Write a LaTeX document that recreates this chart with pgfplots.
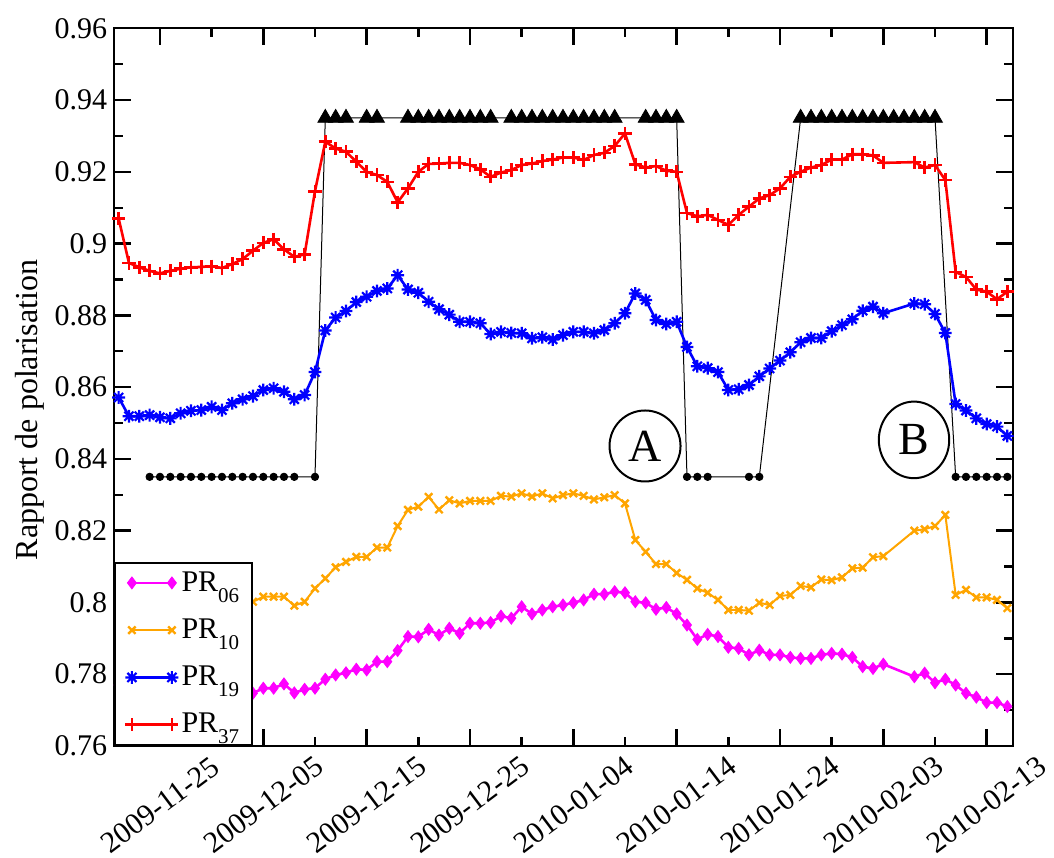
\documentclass[border=0pt]{standalone}
\usepackage{fontspec}
\setmainfont{Liberation Serif}
\usepackage{pgfplots}
\usepackage{pgfplotstable}
\pgfplotsset{compat=1.18}
\usetikzlibrary{shapes.geometric}
\definecolor{mymag}{RGB}{255,0,255}
\definecolor{myor}{RGB}{255,165,0}
\definecolor{myblue}{RGB}{0,0,255}
\definecolor{myred}{RGB}{255,0,0}
\pgfdeclareplotmark{star8}{%
  \pgfpathmoveto{\pgfqpoint{-\pgfplotmarksize}{0pt}}\pgfpathlineto{\pgfqpoint{\pgfplotmarksize}{0pt}}%
  \pgfpathmoveto{\pgfqpoint{0pt}{-\pgfplotmarksize}}\pgfpathlineto{\pgfqpoint{0pt}{\pgfplotmarksize}}%
  \pgfpathmoveto{\pgfqpoint{-.7071\pgfplotmarksize}{-.7071\pgfplotmarksize}}\pgfpathlineto{\pgfqpoint{.7071\pgfplotmarksize}{.7071\pgfplotmarksize}}%
  \pgfpathmoveto{\pgfqpoint{-.7071\pgfplotmarksize}{.7071\pgfplotmarksize}}\pgfpathlineto{\pgfqpoint{.7071\pgfplotmarksize}{-.7071\pgfplotmarksize}}%
  \pgfusepathqstroke}
\newcommand\sub[1]{\raisebox{-5.5pt}[\height][0pt]{\fontsize{10.5}{12}\selectfont #1}}

% x = days since 2009-11-25
\pgfplotstableread{
x y
-4 0.9070
-3 0.8946
-2 0.8934
-1 0.8924
0 0.8917
1 0.8924
2 0.8930
3 0.8934
4 0.8935
5 0.8937
6 0.8932
7 0.8943
8 0.8957
9 0.8980
10 0.9002
11 0.9012
12 0.8984
13 0.8963
14 0.8970
15 0.9146
16 0.9284
17 0.9265
18 0.9256
19 0.9228
20 0.9200
21 0.9191
22 0.9172
23 0.9115
24 0.9154
25 0.9200
26 0.9222
27 0.9223
28 0.9225
29 0.9225
30 0.9219
31 0.9207
32 0.9186
33 0.9198
34 0.9205
35 0.9219
36 0.9223
37 0.9230
38 0.9234
39 0.9240
40 0.9240
41 0.9233
42 0.9247
43 0.9253
44 0.9272
45 0.9307
46 0.9221
47 0.9212
48 0.9216
49 0.9203
50 0.9200
51 0.9085
52 0.9076
53 0.9080
54 0.9066
55 0.9052
56 0.9080
57 0.9103
58 0.9126
59 0.9135
60 0.9154
61 0.9186
62 0.9200
63 0.9212
64 0.9219
65 0.9234
66 0.9234
67 0.9249
68 0.9249
69 0.9246
70 0.9225
73 0.9227
74 0.9212
75 0.9219
76 0.9177
77 0.8921
78 0.8907
79 0.8872
80 0.8866
81 0.8845
82 0.8866
}\tabred

\pgfplotstableread{
x y
-4 0.8571
-3 0.8519
-2 0.8519
-1 0.8522
0 0.8516
1 0.8513
2 0.8527
3 0.8534
4 0.8536
5 0.8545
6 0.8536
7 0.8555
8 0.8566
9 0.8575
10 0.8592
11 0.8597
12 0.8587
13 0.8566
14 0.8578
15 0.8642
16 0.8758
17 0.8794
18 0.8812
19 0.8837
20 0.8852
21 0.8868
22 0.8875
23 0.8912
24 0.8872
25 0.8863
26 0.8838
27 0.8817
28 0.8802
29 0.8782
30 0.8782
31 0.8778
32 0.8748
33 0.8754
34 0.8751
35 0.8750
36 0.8736
37 0.8739
38 0.8733
39 0.8745
40 0.8754
41 0.8754
42 0.8750
43 0.8759
44 0.8778
45 0.8806
46 0.8861
47 0.8843
48 0.8787
49 0.8776
50 0.8782
51 0.8712
52 0.8658
53 0.8653
54 0.8642
55 0.8592
56 0.8594
57 0.8606
58 0.8630
59 0.8652
60 0.8674
61 0.8697
62 0.8725
63 0.8737
64 0.8737
65 0.8756
66 0.8773
67 0.8789
68 0.8813
69 0.8824
70 0.8806
73 0.8833
74 0.8831
75 0.8804
76 0.8751
77 0.8553
78 0.8535
79 0.8513
80 0.8497
81 0.8490
82 0.8464
}\tabblue

\pgfplotstableread{
x y
-4 0.8005
-3 0.8000
-2 0.8002
-1 0.7998
0 0.8000
1 0.8003
2 0.8001
3 0.8004
4 0.8000
5 0.8003
6 0.8006
7 0.8004
8 0.8005
9 0.8002
10 0.8016
11 0.8016
12 0.8016
13 0.7991
14 0.8002
15 0.8039
16 0.8067
17 0.8098
18 0.8113
19 0.8127
20 0.8127
21 0.8153
22 0.8153
23 0.8213
24 0.8258
25 0.8267
26 0.8294
27 0.8259
28 0.8285
29 0.8276
30 0.8283
31 0.8283
32 0.8283
33 0.8297
34 0.8295
35 0.8304
36 0.8295
37 0.8304
38 0.8290
39 0.8299
40 0.8304
41 0.8297
42 0.8287
43 0.8293
44 0.8299
45 0.8276
46 0.8174
47 0.8141
48 0.8107
49 0.8107
50 0.8082
51 0.8063
52 0.8039
53 0.8027
54 0.8007
55 0.7979
56 0.7979
57 0.7977
58 0.7999
59 0.7993
60 0.8018
61 0.8021
62 0.8046
63 0.8042
64 0.8064
65 0.8062
66 0.8070
67 0.8095
68 0.8097
69 0.8126
70 0.8129
73 0.8200
74 0.8204
75 0.8213
76 0.8244
77 0.8021
78 0.8035
79 0.8014
80 0.8014
81 0.8007
82 0.7984
}\taborange

\pgfplotstableread{
x y
-4 0.7770
-3 0.7765
-2 0.7762
-1 0.7760
0 0.7758
1 0.7755
2 0.7757
3 0.7760
4 0.7756
5 0.7758
6 0.7760
7 0.7757
8 0.7752
9 0.7747
10 0.7761
11 0.7761
12 0.7773
13 0.7748
14 0.7758
15 0.7761
16 0.7786
17 0.7798
18 0.7804
19 0.7814
20 0.7812
21 0.7835
22 0.7835
23 0.7866
24 0.7905
25 0.7904
26 0.7925
27 0.7909
28 0.7928
29 0.7914
30 0.7942
31 0.7942
32 0.7944
33 0.7962
34 0.7956
35 0.7988
36 0.7968
37 0.7979
38 0.7988
39 0.7993
40 0.7999
41 0.8007
42 0.8023
43 0.8023
44 0.8030
45 0.8027
46 0.8002
47 0.7999
48 0.7981
49 0.7986
50 0.7968
51 0.7937
52 0.7897
53 0.7911
54 0.7905
55 0.7875
56 0.7872
57 0.7854
58 0.7867
59 0.7854
60 0.7854
61 0.7847
62 0.7844
63 0.7844
64 0.7854
65 0.7858
66 0.7856
67 0.7847
68 0.7821
69 0.7816
70 0.7828
73 0.7793
74 0.7803
75 0.7776
76 0.7786
77 0.7770
78 0.7747
79 0.7736
80 0.7721
81 0.7721
82 0.7710
}\tabmag

\pgfplotstableread{
x y
-1 0.835
0 0.835
1 0.835
2 0.835
3 0.835
4 0.835
5 0.835
6 0.835
7 0.835
8 0.835
9 0.835
10 0.835
11 0.835
12 0.835
13 0.835
15 0.835
16 0.935
17 0.935
18 0.935
20 0.935
21 0.935
24 0.935
25 0.935
26 0.935
27 0.935
28 0.935
29 0.935
30 0.935
31 0.935
32 0.935
34 0.935
35 0.935
36 0.935
37 0.935
38 0.935
39 0.935
40 0.935
41 0.935
42 0.935
43 0.935
44 0.935
47 0.935
48 0.935
49 0.935
50 0.935
51 0.835
52 0.835
53 0.835
57 0.835
58 0.835
62 0.935
63 0.935
64 0.935
65 0.935
66 0.935
67 0.935
68 0.935
69 0.935
70 0.935
71 0.935
72 0.935
73 0.935
74 0.935
75 0.935
77 0.835
78 0.835
79 0.835
80 0.835
81 0.835
82 0.835
}\tabstate

\pgfplotstableread{
x y
-1 0.835
0 0.835
1 0.835
2 0.835
3 0.835
4 0.835
5 0.835
6 0.835
7 0.835
8 0.835
9 0.835
10 0.835
11 0.835
12 0.835
13 0.835
15 0.835
51 0.835
52 0.835
53 0.835
57 0.835
58 0.835
77 0.835
78 0.835
79 0.835
80 0.835
81 0.835
82 0.835
}\tablow

\pgfplotstableread{
x y
16 0.935
17 0.935
18 0.935
20 0.935
21 0.935
24 0.935
25 0.935
26 0.935
27 0.935
28 0.935
29 0.935
30 0.935
31 0.935
32 0.935
34 0.935
35 0.935
36 0.935
37 0.935
38 0.935
39 0.935
40 0.935
41 0.935
42 0.935
43 0.935
44 0.935
47 0.935
48 0.935
49 0.935
50 0.935
62 0.935
63 0.935
64 0.935
65 0.935
66 0.935
67 0.935
68 0.935
69 0.935
70 0.935
71 0.935
72 0.935
73 0.935
74 0.935
75 0.935
}\tabhigh

\begin{document}
\begin{tikzpicture}
\begin{axis}[
  scale only axis,
  width=449.2pt, height=358.85pt,
  xmin=-4.42, xmax=82.52,
  ymin=0.76, ymax=0.96,
  xtick={0,10,20,30,40,50,60,70,80},
  xticklabels={2009-11-25,2009-12-05,2009-12-15,2009-12-25,2010-01-04,2010-01-14,2010-01-24,2010-02-03,2010-02-13},
  minor x tick num=1,
  ytick={0.76,0.78,0.80,0.82,0.84,0.86,0.88,0.90,0.92,0.94,0.96},
  minor y tick num=1,
  scaled y ticks=false,
  yticklabel style={/pgf/number format/fixed,/pgf/number format/precision=2,
    /pgf/number format/assume math mode=true, font=\fontsize{15}{18}\selectfont},
  xticklabel style={font=\fontsize{15}{18}\selectfont, rotate=37, anchor=center, inner sep=0pt},
  xticklabel shift=29.5pt,
  tick align=inside,
  major tick length=8.5pt, minor tick length=4.5pt,
  every tick/.style={black, line width=1.2pt},
  axis line style={line width=1.2pt},
  ylabel={Rapport de polarisation},
  ylabel style={font=\fontsize{16}{19}\selectfont, at={(rel axis cs:-0.0938,0.468)}, anchor=center},
  legend style={at={(0,0)}, anchor=south west, draw=black, line width=1pt, fill=white,
    font=\fontsize{15}{18}\selectfont, nodes={inner sep=1.5pt}, row sep=9.3pt,
    inner xsep=5pt, inner ysep=3pt},
  legend cell align=left,
  legend image code/.code={\draw[#1] plot coordinates {(0pt,0pt) (20pt,0pt)};},
]
\addplot[black, line width=0.5pt, no marks, forget plot] table[x=x,y=y] {\tabstate};
\addplot[black, only marks, mark=*, mark size=1.85pt, forget plot] table[x=x,y=y] {\tablow};
\addplot[black, only marks, mark=triangle*, mark size=4.3pt, forget plot] table[x=x,y=y] {\tabhigh};

\addplot[color=mymag, line width=1.3pt, mark=diamond*, mark size=3pt, mark options={solid, line width=0.4pt}] table[x=x,y=y] {\tabmag};
\addlegendentry{PR\sub{06}}
\addplot[color=myor, line width=1pt, mark=x, mark size=2.6pt, mark options={solid, line width=1.2pt}] table[x=x,y=y] {\taborange};
\addlegendentry{PR\sub{10}}
\addplot[color=myblue, line width=1.3pt, mark=star8, mark size=3.2pt, mark options={solid, line width=1.1pt}] table[x=x,y=y] {\tabblue};
\addlegendentry{PR\sub{19}}
\addplot[color=myred, line width=1.3pt, mark=+, mark size=3.3pt, mark options={solid, line width=1.3pt}] table[x=x,y=y] {\tabred};
\addlegendentry{PR\sub{37}}

\node[draw, circle, line width=1pt, minimum size=35.5pt, inner sep=0pt, fill=white, font=\fontsize{23}{27}\selectfont] at (axis cs:46.94,0.8436) {A};
\node[draw, ellipse, line width=1pt, minimum width=35.2pt, minimum height=38.3pt, inner sep=0pt, fill=white, font=\fontsize{23}{27}\selectfont] at (axis cs:72.97,0.8453) {B};
\end{axis}
\pgfresetboundingbox
\path[use as bounding box] ([xshift=-57.15pt,yshift=-56pt]current axis.south west) rectangle ([xshift=20.65pt,yshift=14.15pt]current axis.north east);
\end{tikzpicture}
\end{document}
